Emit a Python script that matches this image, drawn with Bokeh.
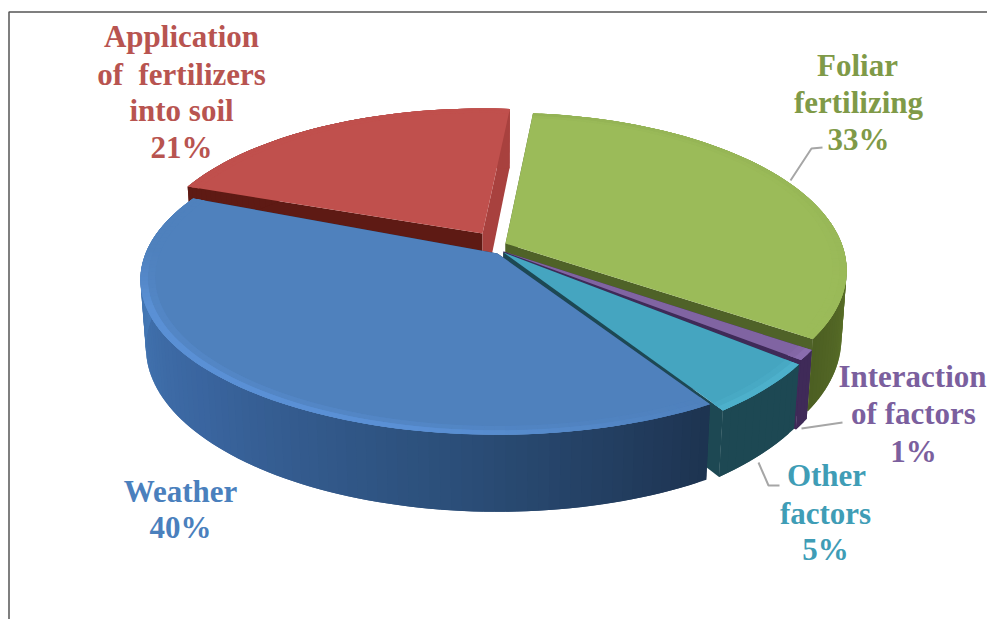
import math
from bokeh.plotting import figure
from bokeh.models import Range1d, ColumnDataSource
from bokeh.core.properties import value
from bokeh.embed import file_html
from bokeh.resources import INLINE

# ---- data ----
categories = ["Foliar fertilizing", "Interaction of factors", "Other factors", "Weather", "Application of fertilizers into soil"]
shares = [33, 1, 5, 40, 21]
label_lines = [
    ["Foliar", "fertilizing", "33%"],
    ["Interaction", "of factors", "1%"],
    ["Other", "factors", "5%"],
    ["Weather", "40%"],
    ["Application", "of\u00a0 fertilizers", "into soil", "21%"],
]

# ---- layout / style ----
W, H = 987, 619
START = 5.5
CX, CY, A, B, K, D = 497.0, 248.0, 352.0, 153.0, 0.171, 67.0
offset = {0: (8, -5), 1: (6, 3), 2: (6, 4), 3: (0, 5), 4: (-15, -15)}
rx = {0: 0.955, 1: 0.955, 2: 0.945, 3: 1.0, 4: 0.94}
ry = {0: 1.0, 1: 1.03, 2: 1.06, 3: 0.985, 4: 0.95}
rot = {0: 0, 1: 0, 2: 0, 3: 3, 4: 0}
depth = {0: 1.0, 1: 0.95, 2: 0.88, 3: 1.0, 4: 1.0}
draw_order = [4, 0, 1, 2, 3]
top_col = ["#9bbb59", "#8064a2", "#45a5c0", "#4f81bd", "#c0504d"]
rim_stops = [
    [(0, "#94b355"), (1, "#9bbb59")],
    [(0, "#8a6dae"), (1, "#8a6dae")],
    [(0, "#4db0cb"), (1, "#4db0cb")],
    [(0, "#4f81bd"), (.3, "#5a90d5"), (.7, "#5a90d5"), (.85, "#4f81bd"), (1, "#4f81bd")],
    [(0, "#c0504d"), (1, "#c0504d")],
]
side_stops = [
    [(0, "#7c9a3c"), (.55, "#6a8530"), (1, "#4c5e22")],
    [(0, "#3f2a58"), (1, "#3f2a58")],
    [(0, "#1d4853"), (1, "#1d4853")],
    [(0, "#1d3350"), (.25, "#2b4e78"), (.55, "#3a659f"), (.8, "#4376b3"), (1, "#4f86c8")],
    [(0, "#5e1a14"), (.6, "#5e1a14"), (.65, "#a8413e"), (1, "#a8413e")],
]
wall_start = ["#4f6228", "#3f2a58", "#1d4853", "#1d3350", "#5e1a14"]
wall_end = ["#4f6228", "#3f2a58", "#1d4853", "#1d3350", "#a8413e"]
text_col = ["#7f9a48", "#7b5f9e", "#3f9db6", "#4a80bd", "#b85450"]
label_pos = [
    [(857, 65), (858, 102), (858, 139)],
    [(912, 376), (913, 413), (913, 451)],
    [(826, 475), (825, 513), (825, 549)],
    [(180, 491), (180, 527)],
    [(181, 36), (181, 74), (181, 110), (181, 147)],
]
leaders = [
    ([790, 811, 822], [180, 148, 147]),
    ([801, 842], [428, 422]),
    ([758, 768, 779], [462, 485, 485]),
]


def mix(stops, t):
    t = max(0, min(1, t))
    for (t0, c0), (t1, c1) in zip(stops, stops[1:]):
        if t <= t1:
            f = (t - t0) / (t1 - t0) if t1 > t0 else 0
            a = [int(c0[i:i + 2], 16) for i in (1, 3, 5)]
            b = [int(c1[i:i + 2], 16) for i in (1, 3, 5)]
            return "#%02x%02x%02x" % tuple(round(x + (y - x) * f) for x, y in zip(a, b))
    return stops[-1][1]


def proj(i, r, theta, z=0.0):
    th = math.radians(theta)
    s = r * (1 - 0.015 * z)
    u, v = s * rx[i] * math.sin(th), s * ry[i] * math.cos(th)
    w = 1 + K * v
    ox, oy = offset[i]
    return CX + ox + A * u / w, CY + oy - B * v / w + z * depth[i] * D / w


xs, ys, cols = [], [], []


def poly(pts, col):
    xs.append([q[0] for q in pts])
    ys.append([q[1] for q in pts])
    cols.append(col)


spans = {}
angle = START
for i, sh in enumerate(shares):
    spans[i] = (angle + rot[i], angle + sh * 3.6 + rot[i])
    angle += sh * 3.6

for i in draw_order:
    a0, a1 = spans[i]
    n = max(3, int((a1 - a0) / 1.5))
    th = [a0 + (a1 - a0) * k / n for k in range(n + 1)]
    # radial walls
    poly([proj(i, 0, a0), proj(i, 1, a0), proj(i, 1, a0, 1), proj(i, 0, a0, 1)], wall_start[i])
    poly([proj(i, 0, a1), proj(i, 1, a1), proj(i, 1, a1, 1), proj(i, 0, a1, 1)], wall_end[i])
    # outer side: each strip runs on under the next so no seams show
    for k in range(n):
        e = th[min(k + 2, n)]
        poly([proj(i, 1, th[k]), proj(i, 1, e), proj(i, 1, e, 1), proj(i, 1, th[k], 1)],
             mix(side_stops[i], (k + .5) / n))
    # top
    poly([proj(i, 0, a0)] + [proj(i, 1, t) for t in th], top_col[i])
    # bevel: two soft rings
    for k in range(n):
        e = th[min(k + 2, n)]
        c = mix(rim_stops[i], (k + .5) / n)
        poly([proj(i, .96, th[k]), proj(i, .96, e), proj(i, .985, e), proj(i, .985, th[k])],
             mix([(0, top_col[i]), (1, c)], .35))
    for k in range(n):
        e = th[min(k + 2, n)]
        c = mix(rim_stops[i], (k + .5) / n)
        poly([proj(i, .98, th[k]), proj(i, .98, e), proj(i, 1, e), proj(i, 1, th[k])], c)

p = figure(width=W, height=H, output_backend="svg", toolbar_location=None,
           x_range=Range1d(0, W), y_range=Range1d(H, 0),
           min_border=0, outline_line_color=None, background_fill_color="white")
p.axis.visible = False
p.grid.visible = False

p.patches(xs, ys, fill_color=cols, line_color=None)

# picture frame (top and left only)
p.line([8.5, 8.5, W], [H, 11.5, 11.5], line_color="#555555", line_width=1.5)

for lx, ly in leaders:
    p.line(lx, ly, line_color="#a6a6a6", line_width=2)

for lines, pos, col in zip(label_lines, label_pos, text_col):
    src = ColumnDataSource(dict(x=[q[0] for q in pos], y=[q[1] for q in pos], t=lines))
    p.text("x", "y", text="t", source=src, text_color=col, text_align="center", text_baseline="middle",
           text_font=value("Liberation Serif"), text_font_style="bold", text_font_size="31px")

open("out.html", "w").write(file_html(p, INLINE))
